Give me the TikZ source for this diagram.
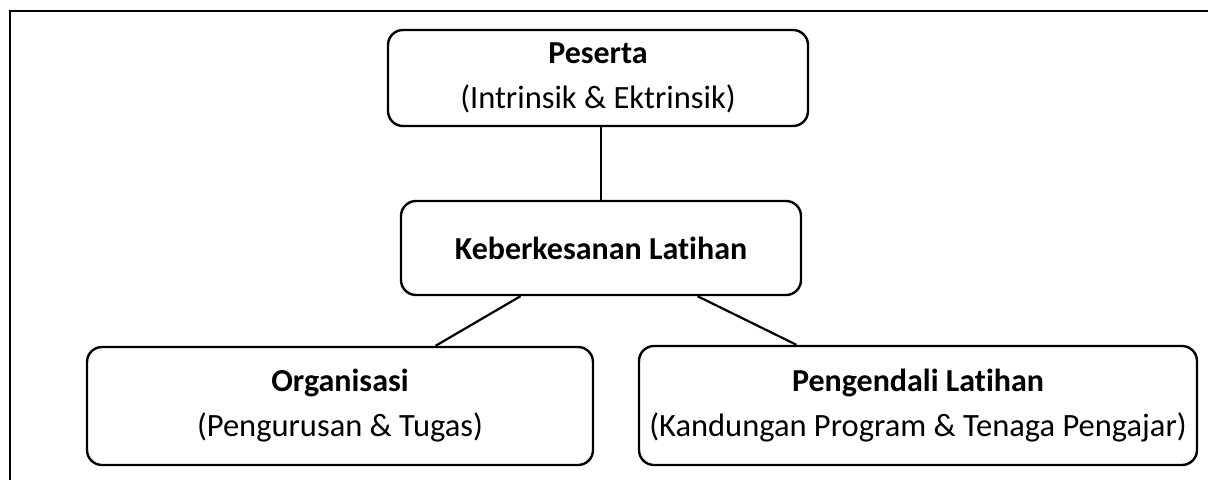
\documentclass[tikz,border=0pt]{standalone}
\usepackage{fontspec}
\setmainfont{Carlito}[Ligatures=NoCommon]
\usetikzlibrary{calc}
\begin{document}
\begin{tikzpicture}[x=1pt,y=-1pt,
  box/.style={draw=black, line width=2.4pt, rounded corners=15pt, align=center, inner sep=0pt,
    font=\fontsize{32.5}{45}\selectfont},
  link/.style={draw=black, line width=2.2pt}]
\useasboundingbox (0,0) rectangle (1208,480);
\draw[line width=2.4pt] (10,480) -- (10,11) -- (1208,11);
\node[box, minimum width=420pt, minimum height=96pt] (p) at (598,78) {{\fontsize{32}{45}\selectfont\bfseries Peserta}\\(Intrinsik \& Ektrinsik)};
\node[box, minimum width=400pt, minimum height=94pt] (k) at (601,248) {{\fontsize{32}{45}\selectfont\bfseries Keberkesanan Latihan}};
\node[box, minimum width=506pt, minimum height=118pt] (o) at (340,406) {{\fontsize{32}{45}\selectfont\bfseries Organisasi}\\(Pengurusan \& Tugas)};
\node[box, minimum width=558pt, minimum height=119pt] (g) at (918,405.5) {{\fontsize{32}{45}\selectfont\bfseries Pengendali Latihan}\\(Kandungan Program \& Tenaga Pengajar)};
\coordinate (kl) at ($(k.south west)!0.3!(k.south east)$);
\coordinate (kr) at ($(k.south west)!0.74!(k.south east)$);
\coordinate (ot) at ($(o.north west)!0.688!(o.north east)$);
\coordinate (gt) at ($(g.north west)!0.283!(g.north east)$);
\draw[link] (k.north) -- (k.north |- p.south);
\draw[link] (kl) -- (ot);
\draw[link] (kr) -- (gt);
\end{tikzpicture}
\end{document}
